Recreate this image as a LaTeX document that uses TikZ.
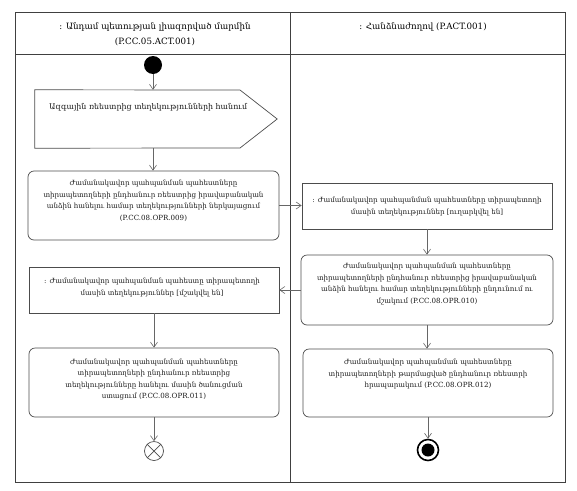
\documentclass[tikz,border=0pt]{standalone}
\usepackage{fontspec}
\setmainfont{DejaVu Serif}
\usetikzlibrary{arrows.meta}
\begin{document}
\begin{tikzpicture}[x=1pt,y=-1pt,
  lane/.style={draw=black!75, line width=0.8pt},
  box/.style={draw=black!70, line width=0.7pt, inner sep=0pt},
  act/.style={box, rounded corners=6pt},
  txt/.style={align=center, inner sep=0pt, text=black!90, font=\fontsize{7.1}{11.6}\selectfont},
  hdr/.style={align=center, inner sep=0pt, font=\fontsize{8.7}{15}\selectfont},
  flow/.style={draw=black!60, line width=0.6pt, -{Straight Barb[length=5pt,width=7pt]}},
]
\useasboundingbox (0,0) rectangle (577,490);
% swimlanes
\draw[lane] (15,12) rectangle (565,482);
\draw[lane] (15,54) -- (565,54);
\draw[lane] (290,12) -- (290,482);
\node[hdr] (h1) at (155,34) {: Անդամ պետության լիազորված մարմին\\(P.CC.05.ACT.001)};
\node[hdr] (h2) at (423,27) {: Հանձնաժողով (P.ACT.001)};

% start
\node[circle, fill=black, minimum size=18pt, inner sep=0pt] (start) at (153,65) {};

% send signal
\node[inner sep=0pt, minimum width=242pt, minimum height=58pt] (b1) at (156,119) {};
\draw[box] (b1.north west) -- (240,90) -- (b1.east) -- (240,148) -- (b1.south west) -- cycle;
\node[txt, anchor=west, font=\fontsize{7.9}{11.6}\selectfont] (b1t) at (49,107) {Ազգային ռեեստրից տեղեկությունների հանում};

% activities and objects
\node[act, minimum width=251pt, minimum height=69pt] (b2) at (153.5,205.5) {};
\node[txt] (b2t) at (153.5,201) {Ժամանակավոր պահպանման պահեստները\\տիրապետողների ընդհանուր ռեեստրից իրավաբանական\\անձին հանելու համար տեղեկությունների ներկայացում\\(P.CC.08.OPR.009)};

\node[box, minimum width=250pt, minimum height=46pt] (b3) at (427,206) {};
\node[txt] (b3t) at (427,206.5) {: Ժամանակավոր պահպանման պահեստները տիրապետողի\\մասին տեղեկություններ [ուղարկվել են]};

\node[act, minimum width=252pt, minimum height=70pt] (b4) at (427,290) {};
\node[txt] (b4t) at (427,284) {Ժամանակավոր պահպանման պահեստները\\տիրապետողների ընդհանուր ռեեստրից իրավաբանական\\անձին հանելու համար տեղեկությունների ընդունում ու\\մշակում (P.CC.08.OPR.010)};

\node[box, minimum width=250pt, minimum height=46pt] (b5) at (154,290) {};
\node[txt] (b5t) at (152,287.5) {: Ժամանակավոր պահպանման պահեստը տիրապետողի\\մասին տեղեկություններ [մշակվել են]};

\node[act, minimum width=250pt, minimum height=69pt] (b6) at (154,382.5) {};
\node[txt] (b6t) at (154,379.5) {Ժամանակավոր պահպանման պահեստները\\տիրապետողների ընդհանուր ռեեստրից\\տեղեկությունները հանելու մասին ծանուցման\\ստացում (P.CC.08.OPR.011)};

\node[act, minimum width=250pt, minimum height=68pt] (b7) at (428,383) {};
\node[txt] (b7t) at (428,374) {Ժամանակավոր պահպանման պահեստները\\տիրապետողների թարմացված ընդհանուր ռեեստրի\\հրապարակում (P.CC.08.OPR.012)};

% finals
\node[circle, draw=black!70, line width=0.7pt, minimum size=19pt, inner sep=0pt] (ff) at (154,451) {};
\draw[black!70, line width=0.7pt] (ff.north west) -- (ff.south east) (ff.north east) -- (ff.south west);
\node[circle, draw=black, line width=1.6pt, minimum size=21pt, inner sep=0pt] (fin) at (428,450) {};
\node[circle, fill=black, minimum size=13pt, inner sep=0pt] (fin2) at (fin) {};

% flows
\draw[flow] (start.south) -- (start.south |- b1.north);
\draw[flow] (start.south |- b1.south) -- (start.south |- b2.north);
\draw[flow] (b2.east) -- (b2.east -| b3.west);
\draw[flow] (b3.south) -- (b3.south |- b4.north);
\draw[flow] (b4.west) -- (b4.west -| b5.east);
\draw[flow] (b5.south) -- (b6.north);
\draw[flow] (b6.south) -- (ff.north);
\draw[flow] (b4.south) -- (b4.south |- b7.north);
\draw[flow] (b7.south) -- (fin.north);
\end{tikzpicture}
\end{document}
